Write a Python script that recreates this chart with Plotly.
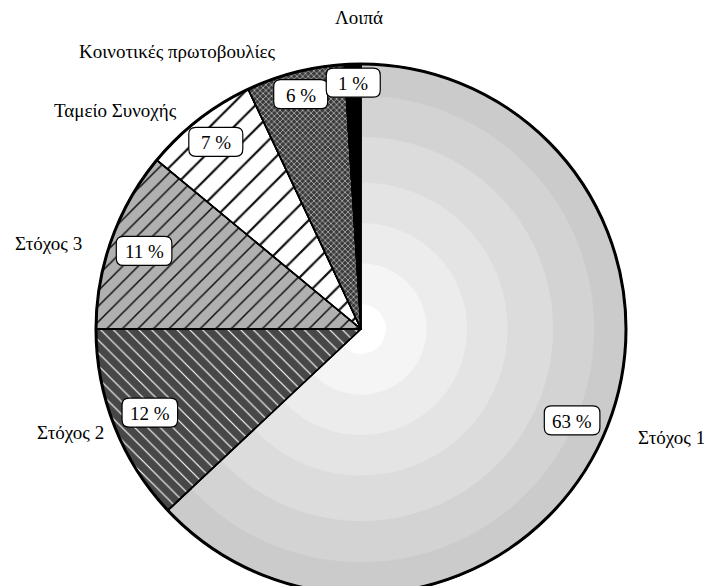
import math
import plotly.graph_objects as go

# Shares of the structural funds budget
categories = ["Στόχος 1", "Στόχος 2", "Στόχος 3", "Ταμείο Συνοχής",
              "Κοινοτικές πρωτοβουλίες", "Λοιπά"]
shares = [63, 12, 11, 7, 6, 1]
pct_labels = ["63 %", "12 %", "11 %", "7 %", "6 %", "1 %"]

# Canvas and pie geometry (pixels)
W, H = 704, 598
CX, CY, R = 361, 329, 265
FONT = "Liberation Serif"
FS = 19
TRANSPARENT = "rgba(0,0,0,0)"


def domain(frac):
    r = R * frac
    return dict(x=[(CX - r) / W, (CX + r) / W],
                y=[(H - CY - r) / H, (H - CY + r) / H])


def px2paper(x, y):
    return x / W, 1 - y / H


def rounded_box(cx, cy, w, h, r):
    x0, x1, y0, y1 = cx - w / 2, cx + w / 2, cy - h / 2, cy + h / 2
    pts = [("M", [(x0 + r, y0)]), ("L", [(x1 - r, y0)]), ("Q", [(x1, y0), (x1, y0 + r)]),
           ("L", [(x1, y1 - r)]), ("Q", [(x1, y1), (x1 - r, y1)]),
           ("L", [(x0 + r, y1)]), ("Q", [(x0, y1), (x0, y1 - r)]),
           ("L", [(x0, y0 + r)]), ("Q", [(x0, y0), (x0 + r, y0)])]
    parts = []
    for cmd, coords in pts:
        s = " ".join("%.5f,%.5f" % px2paper(x, y) for x, y in coords)
        parts.append(cmd + s)
    return " ".join(parts) + " Z"


# Slice styling
slice_colors = ["#cbcbcb", "#484848", "#b2b2b2", "#ffffff", "#3a3a3a", "#000000"]
pat_shape = ["", "\\", "/", "/", "x", ""]
pat_fg = ["#000000", "#ffffff", "#111111", "#111111", "#d0d0d0", "#000000"]
pat_bg = ["#cbcbcb", "#474747", "#b0b0b0", "#ffffff", "#3a3a3a", "#000000"]
pat_size = [8, 9, 11, 17, 4, 8]
pat_solid = [0.2, 0.13, 0.14, 0.13, 0.3, 0.2]

# Concentric shading of the largest slice, outer to inner
ring_fracs = [0.88, 0.725, 0.553, 0.40, 0.248, 0.094]
ring_colors = ["#d3d3d3", "#dcdcdc", "#e4e4e4", "#ececec", "#f5f5f5", "#ffffff"]

fig = go.Figure()

common = dict(values=shares, labels=categories, sort=False, direction="clockwise",
              rotation=0, textinfo="none", hoverinfo="label+percent",
              showlegend=False)

fig.add_trace(go.Pie(
    **common, domain=domain(1.0),
    marker=dict(colors=slice_colors,
                line=dict(color="black", width=1.5),
                pattern=dict(shape=pat_shape, fgcolor=pat_fg, bgcolor=pat_bg,
                             size=pat_size, solidity=pat_solid, fillmode="replace")),
))

for frac, col in zip(ring_fracs, ring_colors):
    cols = [col] + [TRANSPARENT] * (len(shares) - 1)
    fig.add_trace(go.Pie(**common, domain=domain(frac),
                         marker=dict(colors=cols, line=dict(width=0))))

# Slice edges on top of the shading, then the heavier rim
fig.add_trace(go.Pie(**common, domain=domain(1.0),
                     marker=dict(colors=[TRANSPARENT] * len(shares),
                                 line=dict(color="black", width=1.5))))
fig.add_trace(go.Pie(values=[1], labels=["rim"], sort=False, textinfo="none",
                     hoverinfo="skip", showlegend=False, domain=domain(1.0),
                     marker=dict(colors=[TRANSPARENT], line=dict(color="black", width=3))))

# Percentage boxes placed along each slice's bisector
label_radius = [0.868, 0.857, 0.87, 0.894, 0.915, 0.93]
total = sum(shares)
cum = 0
annotations = []
shapes = []
for val, txt, rf in zip(shares, pct_labels, label_radius):
    mid = (cum + val / 2) / total * 2 * math.pi
    cum += val
    px = CX + rf * R * math.sin(mid)
    py = CY - rf * R * math.cos(mid)
    text_w = FS * (0.5 * (len(txt) - 2) + 0.25 + 0.833)
    box_w = max(text_w + 16, 54)
    shapes.append(dict(type="path", path=rounded_box(px, py, box_w, 29, 7),
                       xref="paper", yref="paper", fillcolor="white",
                       line=dict(color="black", width=1.2), layer="above"))
    x, y = px2paper(px, py + 1)
    annotations.append(dict(
        x=x, y=y, xref="paper", yref="paper", text=txt,
        showarrow=False, font=dict(family=FONT, size=FS, color="black"),
        xanchor="center", yanchor="middle"))

# Category names around the pie (pixel centres)
name_pos = [(671, 437), (70, 432), (48, 243), (115, 110), (177, 52), (359, 18)]
for name, (px, py) in zip(categories, name_pos):
    x, y = px2paper(px, py)
    annotations.append(dict(
        x=x, y=y, xref="paper", yref="paper", text=name,
        showarrow=False, font=dict(family=FONT, size=FS, color="black"),
        xanchor="center", yanchor="middle"))

fig.update_layout(
    width=W, height=H,
    margin=dict(l=0, r=0, t=0, b=0),
    paper_bgcolor="white", plot_bgcolor="white",
    annotations=annotations, shapes=shapes,
)

fig.write_html("out.html")
